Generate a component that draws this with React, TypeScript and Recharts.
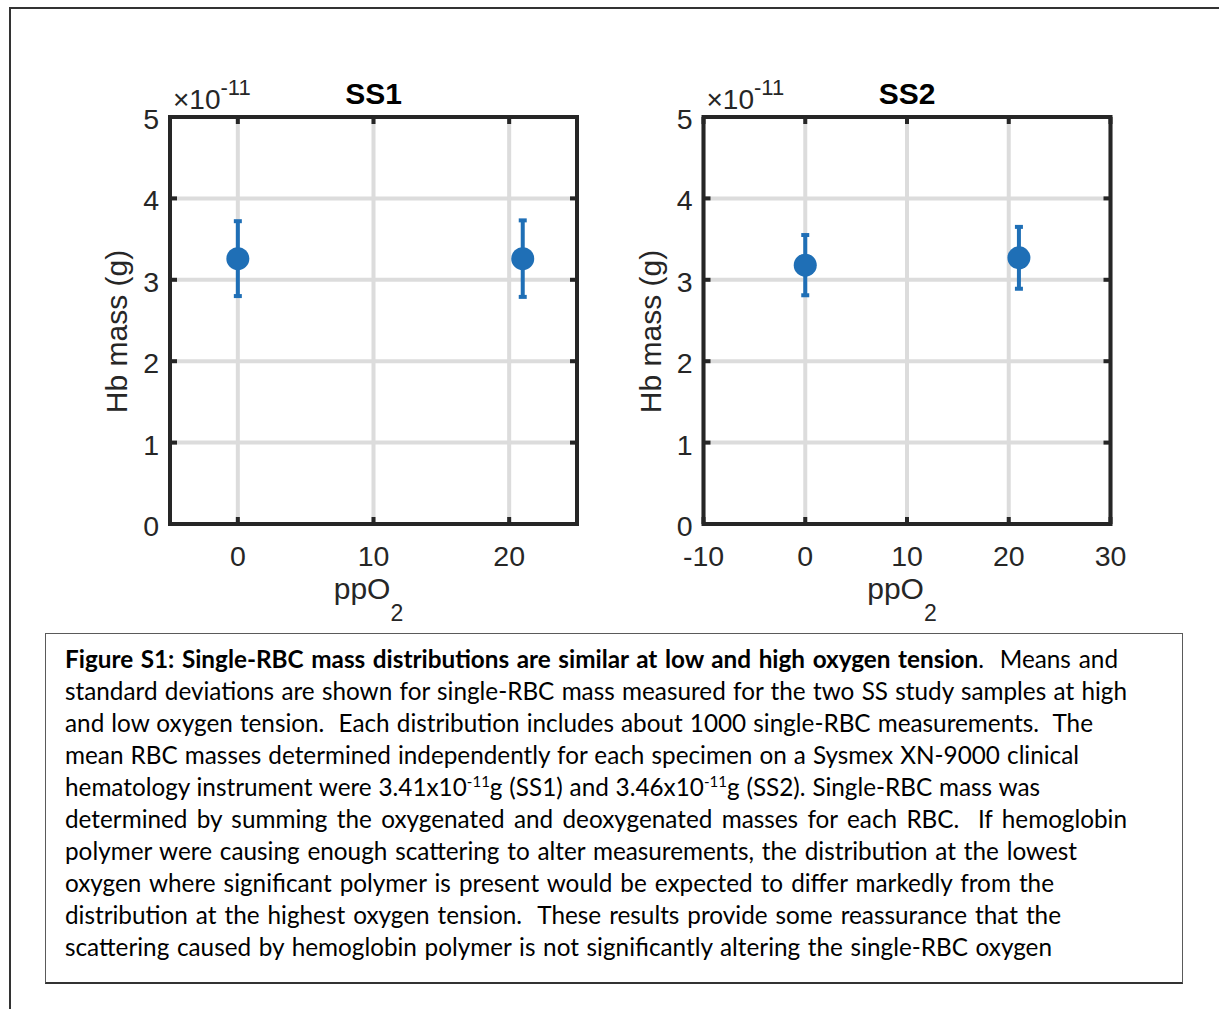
import React from "react";
import {
  ScatterChart,
  Scatter,
  XAxis,
  YAxis,
  CartesianGrid,
  ErrorBar,
  ReferenceArea,
} from "recharts";

// ---------- data ----------
const ppO2 = [0, 21];
const ss1Mean = [3.26, 3.26];
const ss1Sd = [0.46, 0.47];
const ss2Mean = [3.18, 3.27];
const ss2Sd = [0.37, 0.38];

const yTicks = [0, 1, 2, 3, 4, 5];
const yDomain = [0, 5];
const ss1XTicks = [0, 10, 20];
const ss1XDomain = [-5, 25];
const ss2XTicks = [-10, 0, 10, 20, 30];
const ss2XDomain = [-10, 30];

const captionLines = [
  "standard deviations are shown for single-RBC mass measured for the two SS study samples at high",
  "and low oxygen tension.\u00a0 Each distribution includes about 1000 single-RBC measurements.\u00a0 The",
  "mean RBC masses determined independently for each specimen on a Sysmex XN-9000 clinical",
];
const captionLinesAfter = [
  "determined by summing the oxygenated and deoxygenated masses for each RBC.\u00a0 If hemoglobin",
  "polymer were causing enough scattering to alter measurements, the distribution at the lowest",
  "oxygen where significant polymer is present would be expected to differ markedly from the",
  "distribution at the highest oxygen tension.\u00a0 These results provide some reassurance that the",
  "scattering caused by hemoglobin polymer is not significantly altering the single-RBC oxygen",
];

// ---------- styles ----------
const BLUE = "#1f6fb6";
const AXIS = "#262626";
const FONT = "'Liberation Sans', Arial, Helvetica, sans-serif";
const PLOT_W = 407;
const PLOT_H = 407;
const MARK = 7;
const TICK_FS = 28.5;

const makeRows = (xs: number[], ys: number[], es: number[]) =>
  xs.map((x, i) => ({ x, y: ys[i], err: es[i] }));

const ss1Rows = makeRows(ppO2, ss1Mean, ss1Sd);
const ss2Rows = makeRows(ppO2, ss2Mean, ss2Sd);

const XTick = (props: any) => {
  const { x, y, payload } = props;
  return (
    <g>
      <line x1={x} x2={x} y1={y} y2={y - MARK} stroke={AXIS} strokeWidth={4} />
      <line x1={x} x2={x} y1={y - PLOT_H} y2={y - PLOT_H + MARK} stroke={AXIS} strokeWidth={4} />
      <text x={x} y={y + 42} textAnchor="middle" fontSize={TICK_FS} fontFamily={FONT} fill={AXIS}>
        {payload.value}
      </text>
    </g>
  );
};

const YTick = (props: any) => {
  const { x, y, payload } = props;
  return (
    <g>
      <line x1={x} x2={x + MARK} y1={y} y2={y} stroke={AXIS} strokeWidth={4} />
      <line x1={x + PLOT_W} x2={x + PLOT_W - MARK} y1={y} y2={y} stroke={AXIS} strokeWidth={4} />
      <text x={x - 11} y={y + 12} textAnchor="end" fontSize={TICK_FS} fontFamily={FONT} fill={AXIS}>
        {payload.value}
      </text>
    </g>
  );
};

const XLabel = (props: any) => {
  const vb = props.viewBox || {};
  const cx = vb.x + vb.width / 2;
  const by = vb.y + 75;
  return (
    <text x={cx - 5} y={by} textAnchor="middle" fontSize={30} fontFamily={FONT} fill={AXIS}>
      ppO
      <tspan fontSize={23} dy={22}>2</tspan>
    </text>
  );
};

const makeYLabel = (title: string) => (props: any) => {
  const vb = props.viewBox || {};
  const left = vb.x + vb.width;
  const top = vb.y;
  const cy = vb.y + vb.height / 2 + 11;
  const lx = left - 43;
  return (
    <g>
      <text
        x={lx}
        y={cy}
        transform={`rotate(-90 ${lx} ${cy})`}
        textAnchor="middle"
        fontSize={30}
        fontFamily={FONT}
        fill={AXIS}
      >
        Hb mass (g)
      </text>
      <text x={left + 3} y={top - 8} fontSize={28} fontFamily={FONT} fill={AXIS}>
        ×10
        <tspan fontSize={22} dy={-14}>-11</tspan>
      </text>
      <text
        x={left + PLOT_W / 2}
        y={top - 13}
        textAnchor="middle"
        fontSize={30}
        fontWeight="bold"
        fontFamily={FONT}
        fill="#000"
      >
        {title}
      </text>
    </g>
  );
};

const Dot = (props: any) => <circle cx={props.cx} cy={props.cy} r={11.5} fill={BLUE} />;

type PanelProps = {
  title: string;
  rows: { x: number; y: number; err: number }[];
  xDomain: number[];
  xTicks: number[];
  width: number;
  marginLeft: number;
  marginRight: number;
};

const Panel = ({ title, rows, xDomain, xTicks, width, marginLeft, marginRight }: PanelProps) => (
  <ScatterChart
    width={width}
    height={640}
    margin={{ top: 117, right: marginRight, bottom: 56, left: marginLeft }}
  >
    <CartesianGrid
      horizontal={{ stroke: "#dcdcdc", strokeWidth: 4 } as any}
      vertical={{ stroke: "#c6c6c6", strokeWidth: 4, strokeDasharray: "1 1" } as any}
      stroke="#dcdcdc"
      strokeWidth={4}
    />
    <XAxis
      dataKey="x"
      type="number"
      domain={xDomain as any}
      ticks={xTicks}
      allowDataOverflow
      height={60}
      tickSize={0}
      tickMargin={0}
      tickLine={false}
      axisLine={false}
      tick={<XTick />}
      interval={0}
      label={{ content: XLabel } as any}
    />
    <YAxis
      dataKey="y"
      type="number"
      domain={yDomain as any}
      ticks={yTicks}
      allowDataOverflow
      width={70}
      tickSize={0}
      tickMargin={0}
      tickLine={false}
      axisLine={false}
      tick={<YTick />}
      interval={0}
      label={{ content: makeYLabel(title) } as any}
    />
    <ReferenceArea
      x1={xDomain[0]}
      x2={xDomain[1]}
      y1={yDomain[0]}
      y2={yDomain[1]}
      fill="none"
      fillOpacity={0}
      stroke={AXIS}
      strokeWidth={4}
      ifOverflow="visible"
    />
    <Scatter data={rows} dataKey="y" shape={<Dot />} isAnimationActive={false}>
      <ErrorBar dataKey="err" direction="y" width={4} strokeWidth={4} stroke={BLUE} isAnimationActive={false} />
    </Scatter>
  </ScatterChart>
);

const lineStyle = (w: number): React.CSSProperties => ({
  width: w,
  whiteSpace: "nowrap",
  textAlign: "justify",
  textAlignLast: "justify" as any,
  height: 32,
  lineHeight: "32px",
});

const lineWidths = [1053, 1062, 1028, 1014, 975, 1062, 1012, 989, 996, 987];

export default function App() {
  return (
    <div
      style={{
        position: "absolute",
        left: 0,
        top: 0,
        width: 1219,
        height: 1009,
        overflow: "hidden",
        background: "#fff",
      }}
    >
      <div
        style={{
          position: "absolute",
          left: 9,
          top: 7,
          width: 1300,
          height: 1100,
          borderLeft: "2px solid #333",
          borderTop: "2px solid #333",
        }}
      />
      <div style={{ position: "absolute", left: 0, top: 0 }}>
        <Panel
          title="SS1"
          rows={ss1Rows}
          xDomain={ss1XDomain}
          xTicks={ss1XTicks}
          width={600}
          marginLeft={100}
          marginRight={23}
        />
      </div>
      <div style={{ position: "absolute", left: 600, top: 0 }}>
        <Panel
          title="SS2"
          rows={ss2Rows}
          xDomain={ss2XDomain}
          xTicks={ss2XTicks}
          width={619}
          marginLeft={33.5}
          marginRight={108.5}
        />
      </div>
      <div
        style={{
          position: "absolute",
          left: 45,
          top: 633,
          width: 1138,
          height: 351,
          boxSizing: "border-box",
          border: "1px solid #5a5a5a",
          borderBottom: "2px solid #333",
        }}
      />
      <div
        style={{
          position: "absolute",
          left: 65,
          top: 643,
          fontFamily: "Lato, 'Open Sans', sans-serif",
          fontSize: 24.3,
          color: "#000",
        }}
      >
        <div style={lineStyle(lineWidths[0])}>
          <b>Figure S1: Single-RBC mass distributions are similar at low and high oxygen tension</b>.{"\u00a0 "}Means and
        </div>
        {captionLines.map((t, i) => (
          <div key={"a" + i} style={lineStyle(lineWidths[i + 1])}>
            {t}
          </div>
        ))}
        <div style={lineStyle(lineWidths[4])}>
          hematology instrument were 3.41x10
          <span style={{ fontSize: "0.62em", position: "relative", top: "-0.6em" }}>-11</span>g (SS1) and 3.46x10
          <span style={{ fontSize: "0.62em", position: "relative", top: "-0.6em" }}>-11</span>g (SS2). Single-RBC mass was
        </div>
        {captionLinesAfter.map((t, i) => (
          <div key={"b" + i} style={lineStyle(lineWidths[i + 5])}>
            {t}
          </div>
        ))}
      </div>
    </div>
  );
}
